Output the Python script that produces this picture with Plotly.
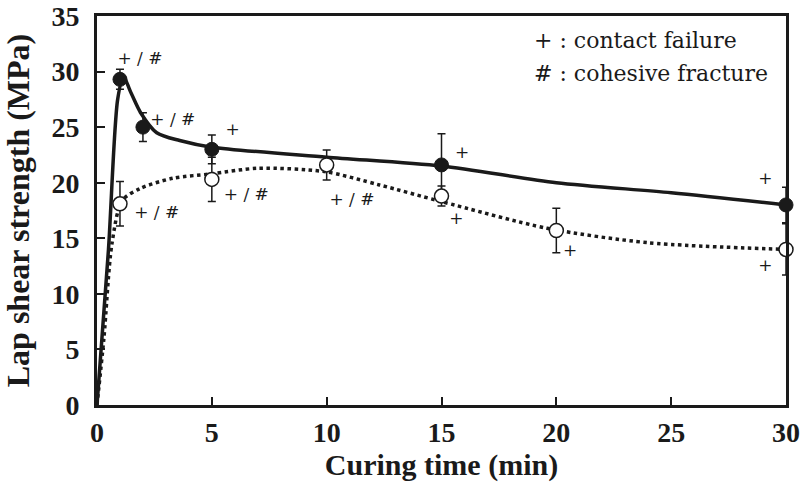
import plotly.graph_objects as go

# Measured data (filled = solid series, open = dotted series)
x_filled = [1, 2, 5, 15, 30]
y_filled = [29.3, 25.0, 23.0, 21.6, 18.0]
e_filled = [0.9, 1.3, 1.3, 2.8, 1.6]

x_open = [1, 5, 10, 15, 20, 30]
y_open = [18.1, 20.3, 21.6, 18.8, 15.7, 14.0]
e_open = [2.0, 2.0, 1.35, 0.9, 2.0, 2.3]

# Fitted trend curves
x_solid_curve = [0, 0.5, 0.9, 1.15, 1.5, 1.9, 2.6, 3.6, 5, 10, 15, 20, 25, 30]
y_solid_curve = [0, 14, 27.5, 29.5, 28, 26.3, 24.5, 23.8, 23.2, 22.3, 21.5, 20.0, 19.1, 18.0]

x_dot_curve = [0, 0.3, 0.65, 1.1, 1.9, 3.3, 5, 7, 9.9, 12.3, 15, 19.6, 24, 30]
y_dot_curve = [0, 6, 14.5, 18.4, 19.5, 20.4, 20.8, 21.3, 21.0, 19.8, 18.3, 15.9, 14.6, 14.0]

# Failure-mode labels
lab_x = [1.87, 3.3, 5.9, 2.6, 6.5, 11.1, 15.9, 15.65, 20.6, 29.1, 29.1]
lab_y = [31.1, 25.6, 24.7, 17.2, 18.8, 18.4, 22.6, 16.7, 13.8, 20.3, 12.4]
lab_t = ["+ / #", "+ / #", "+", "+ / #", "+ / #", "+ / #", "+", "+", "+", "+", "+"]

x_ticks = [0, 5, 10, 15, 20, 25, 30]
y_ticks = [0, 5, 10, 15, 20, 25, 30, 35]

SERIF_B = "Liberation Serif"
SERIF_R = "DejaVu Serif"
INK = "#1a1a1a"

fig = go.Figure()
fig.add_trace(go.Scatter(x=x_solid_curve, y=y_solid_curve, mode="lines",
                         line=dict(color=INK, width=3.5, shape="spline", smoothing=0.8),
                         showlegend=False, hoverinfo="skip", cliponaxis=False))
fig.add_trace(go.Scatter(x=x_dot_curve, y=y_dot_curve, mode="lines",
                         line=dict(color=INK, width=3.5, dash="dot", shape="spline", smoothing=0.8),
                         showlegend=False, hoverinfo="skip", cliponaxis=False))
fig.add_trace(go.Scatter(x=x_filled, y=y_filled, mode="markers",
                         marker=dict(symbol="circle", size=14, color=INK,
                                     line=dict(color=INK, width=1)),
                         error_y=dict(type="data", array=e_filled, color=INK,
                                      thickness=1.5, width=4),
                         showlegend=False, cliponaxis=False))
fig.add_trace(go.Scatter(x=x_open, y=y_open, mode="markers",
                         marker=dict(symbol="circle", size=14, color="white",
                                     line=dict(color=INK, width=1.5)),
                         error_y=dict(type="data", array=e_open, color=INK,
                                      thickness=1.5, width=4),
                         showlegend=False, cliponaxis=False))
fig.add_trace(go.Scatter(x=lab_x, y=lab_y, mode="text", text=lab_t,
                         textfont=dict(family=SERIF_R, size=17, color=INK),
                         showlegend=False, hoverinfo="skip", cliponaxis=False))

fig.add_annotation(xref="paper", yref="paper", x=0.632, y=0.938, xanchor="left", yanchor="middle",
                   text="+ : contact failure", showarrow=False,
                   font=dict(family=SERIF_R, size=22, color=INK))
fig.add_annotation(xref="paper", yref="paper", x=0.632, y=0.853, xanchor="left", yanchor="middle",
                   text="# : cohesive fracture", showarrow=False,
                   font=dict(family=SERIF_R, size=22, color=INK))

tickfont = dict(family=SERIF_B, size=28, color=INK, weight="bold")
fig.update_layout(
    width=805, height=492,
    margin=dict(l=97, r=19, t=16, b=87),
    paper_bgcolor="white", plot_bgcolor="white",
    xaxis=dict(range=[0, 30], tickvals=x_ticks, ticks="inside", ticklen=8, tickwidth=2,
               tickcolor=INK, showline=True, linewidth=3, linecolor=INK,
               mirror=True, showgrid=False, zeroline=False, automargin=False,
               tickfont=tickfont, ticklabeloverflow="allow",
               title=dict(text="<b>Curing time (min)</b>", font=dict(family=SERIF_B, size=30, color=INK), standoff=8)),
    yaxis=dict(range=[0, 35], tickvals=y_ticks, ticks="inside", ticklen=8, tickwidth=2,
               tickcolor=INK, showline=True, linewidth=3, linecolor=INK,
               mirror=True, showgrid=False, zeroline=False, automargin=False,
               tickfont=tickfont, ticklabeloverflow="allow", ticklabelstandoff=9,
               title=dict(text="<b>Lap shear strength (MPa)</b>", font=dict(family=SERIF_B, size=32, color=INK), standoff=14)),
)

fig.write_html("out.html")
